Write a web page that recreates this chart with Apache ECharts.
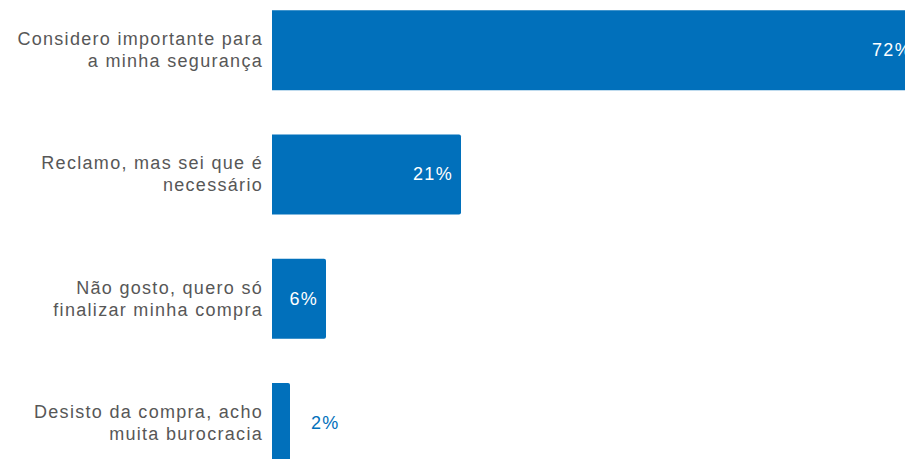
<!DOCTYPE html>
<html>
<head>
<meta charset="utf-8">
<script src="https://cdn.jsdelivr.net/npm/echarts@6/dist/echarts.min.js"></script>
<style>
html, body { margin: 0; padding: 0; background: #ffffff; overflow: hidden; }
#chart { width: 905px; height: 459px; }
#chart text { letter-spacing: 1.3px; }
</style>
</head>
<body>
<div id="chart"></div>
<script>
// Survey answers, listed top to bottom
const categories = [
  'Considero importante para\na minha segurança',
  'Reclamo, mas sei que é\nnecessário',
  'Não gosto, quero só\nfinalizar minha compra',
  'Desisto da compra, acho\nmuita burocracia'
];
const shares = [72, 21, 6, 2];
// Bars too short to hold their label get it outside, in the bar colour
const outsideLabel = [false, false, false, true];

const barColor = '#0170bb';
const fontFamily = 'Liberation Sans, Arial, sans-serif';

const chart = echarts.init(document.getElementById('chart'), null, { renderer: 'svg' });
chart.setOption({
  animation: false,
  grid: {
    left: 272, top: -12, width: 900, height: 497,
    containLabel: false, outerBoundsMode: 'none'
  },
  xAxis: {
    type: 'value', min: 0, max: 100, show: false
  },
  yAxis: {
    type: 'category',
    inverse: true,
    data: categories,
    axisLine: { show: false },
    axisTick: { show: false },
    axisLabel: {
      margin: 9,
      color: '#575757',
      fontFamily: fontFamily,
      fontSize: 18,
      lineHeight: 22,
      padding: [0, 0, 3, 0],
      align: 'right'
    }
  },
  series: [{
    type: 'bar',
    barWidth: 80,
    data: shares.map((v, i) => ({
      value: v,
      label: outsideLabel[i]
        ? { position: 'right', distance: 21, color: barColor }
        : { position: 'insideRight', distance: 8, color: '#ffffff' }
    })),
    itemStyle: { color: barColor, borderRadius: [0, 2, 2, 0] },
    label: {
      show: true,
      formatter: '{c}%',
      fontFamily: fontFamily,
      fontSize: 18
    }
  }]
});
</script>
</body>
</html>
